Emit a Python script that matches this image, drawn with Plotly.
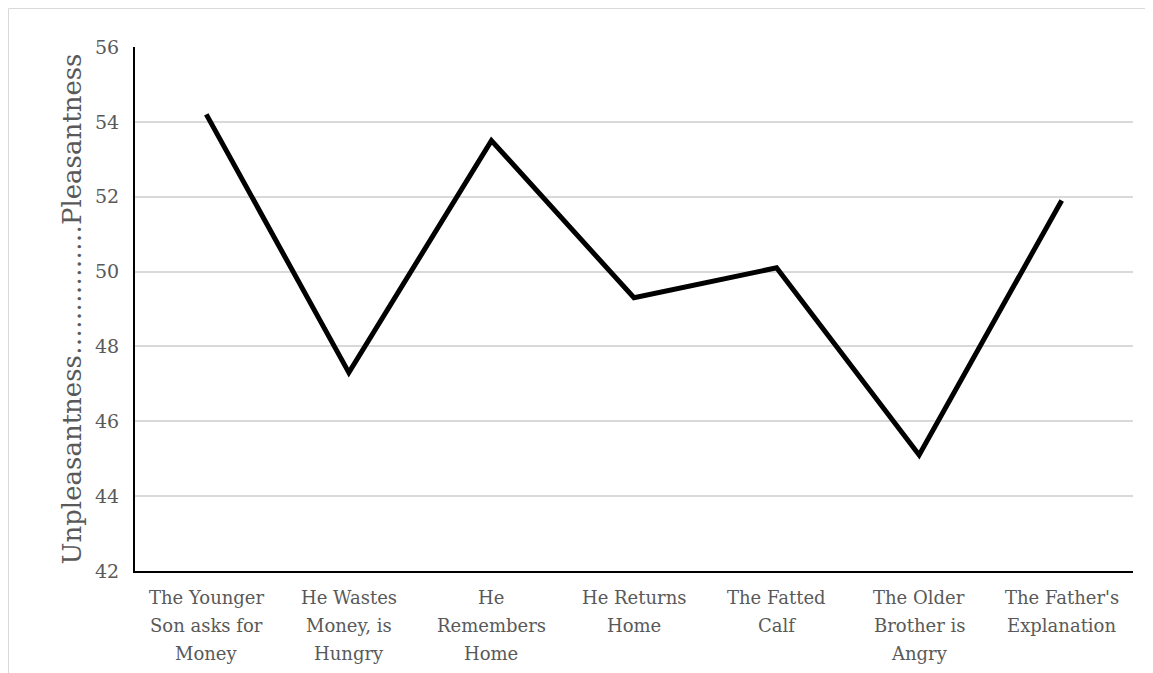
import plotly.graph_objects as go

categories = [
    "The Younger<br>Son asks for<br>Money",
    "He Wastes<br>Money, is<br>Hungry",
    "He<br>Remembers<br>Home",
    "He Returns<br>Home",
    "The Fatted<br>Calf",
    "The Older<br>Brother is<br>Angry",
    "The Father's<br>Explanation",
]
values = [54.2, 47.3, 53.5, 49.3, 50.1, 45.1, 51.9]
y_ticks = [42, 44, 46, 48, 50, 52, 54, 56]

FONT = "DejaVu Serif"
GREY = "#595959"

# figure is offset by the page's 8px body margin
L, T, PW, PH = 127, 39, 998, 524
W, H = 1153, 673

fig = go.Figure()
fig.add_trace(go.Scatter(
    x=categories, y=values, mode="lines",
    line=dict(color="black", width=5),
    showlegend=False, hoverinfo="skip",
))

# multi-line category labels with wider line spacing
annotations = []
for cat in categories:
    for i, line in enumerate(cat.split("<br>")):
        annotations.append(dict(
            x=cat, xref="x", y=0, yref="paper",
            text=line, showarrow=False,
            xanchor="center", yanchor="middle",
            yshift=-26 - 28 * i,
            font=dict(family=FONT, size=18, color=GREY),
        ))

fig.update_layout(
    width=W, height=H,
    margin=dict(l=L, r=W - L - PW, t=T, b=H - T - PH),
    plot_bgcolor="white", paper_bgcolor="white",
    font=dict(family=FONT, color=GREY, size=18),
    xaxis=dict(
        type="category", showgrid=False, zeroline=False,
        showline=True, linecolor="black", linewidth=2,
        ticks="", showticklabels=False,
        range=[-0.5, 6.5], fixedrange=True,
    ),
    yaxis=dict(
        range=[42, 56], tickvals=y_ticks, ticktext=[str(v) for v in y_ticks],
        showgrid=True, gridcolor="#d9d9d9", gridwidth=1.5, zeroline=False,
        showline=True, linecolor="black", linewidth=2,
        ticks="", ticklabelstandoff=10,
        tickfont=dict(family=FONT, size=19, color=GREY),
        title=dict(text="Unpleasantness……………Pleasantness",
                   font=dict(family=FONT, size=26, color=GREY), standoff=6),
    ),
    annotations=annotations,
    shapes=[
        dict(type="line", xref="paper", yref="paper",
             x0=(0.5 - L) / PW, x1=(W - L) / PW,
             y0=(T + PH - 0.5) / PH, y1=(T + PH - 0.5) / PH,
             line=dict(color="#d9d9d9", width=1)),
        dict(type="line", xref="paper", yref="paper",
             x0=(0.5 - L) / PW, x1=(0.5 - L) / PW,
             y0=(T + PH - 0.5) / PH, y1=(T + PH - H) / PH,
             line=dict(color="#d9d9d9", width=1)),
    ],
)

fig.write_html("out.html")
